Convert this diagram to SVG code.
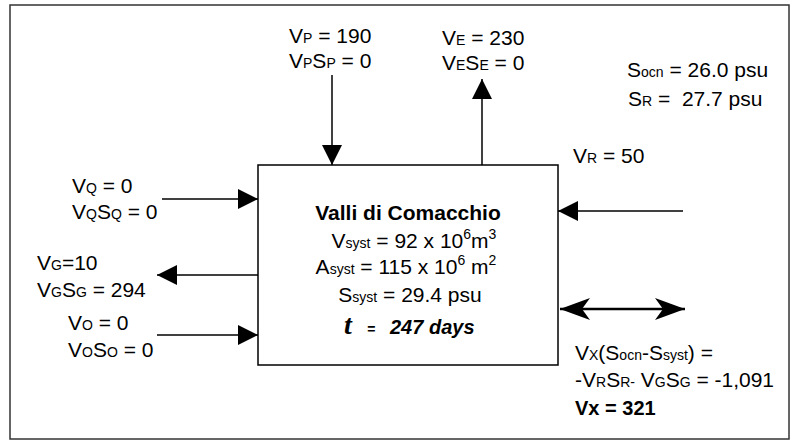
<svg xmlns="http://www.w3.org/2000/svg" width="790" height="441" viewBox="0 0 790 441">
<defs>
<style>
text{font-family:"Liberation Sans",Arial,sans-serif;font-size:21px;fill:#000}
.s{font-size:14px}
.b{font-weight:bold}
.ln{stroke:#000;stroke-width:1.5;fill:none}
.dbl{stroke:#000;stroke-width:2.5;fill:none}
</style>
<marker id="ah" markerUnits="userSpaceOnUse" markerWidth="22" markerHeight="24" viewBox="-21 -11 22 22" refX="0" refY="0" orient="auto">
<path d="M0,0 L-20,-10 L-20,10 Z" fill="#000"/>
</marker>
<marker id="st" markerUnits="userSpaceOnUse" markerWidth="32" markerHeight="26" viewBox="-31 -12 32 24" refX="0" refY="0" orient="auto-start-reverse">
<path d="M0,0 L-30,-11 L-22,0 L-30,11 Z" fill="#000"/>
</marker>
</defs>
<rect x="10" y="5" width="779" height="434" fill="#fff" stroke="#333" stroke-width="1.5"/>
<g id="system">
<rect x="258" y="165" width="300" height="200" fill="#fff" stroke="#000" stroke-width="1.5"/>
<text x="408" y="220" text-anchor="middle" class="b">Valli di Comacchio</text>
<text x="414" y="248" text-anchor="middle">V<tspan class="s">syst</tspan> = 92 x 10<tspan class="s" dy="-9">6</tspan><tspan dy="9">m</tspan><tspan class="s" dy="-9">3</tspan></text>
<text x="406" y="274" text-anchor="middle">A<tspan class="s">syst</tspan> = 115 x 10<tspan class="s" dy="-9">6</tspan><tspan dy="9"> m</tspan><tspan class="s" dy="-9">2</tspan></text>
<text x="410" y="302" text-anchor="middle">S<tspan class="s">syst</tspan> = 29.4 psu</text>
<text x="344" y="334" style="font-family:'Liberation Serif',serif;font-size:28px;font-weight:bold;font-style:italic">t</text>
<text x="367" y="334" class="b" style="font-size:14px;font-style:italic">=</text>
<text x="390" y="334" class="b" style="font-size:20px;font-style:italic">247 days</text>
</g>
<g id="precip">
<text x="289" y="43">V<tspan class="s">P</tspan> = 190</text>
<text x="289" y="68">V<tspan class="s">P</tspan>S<tspan class="s">P</tspan> = 0</text>
</g>
<g id="evap">
<text x="442" y="45">V<tspan class="s">E</tspan> = 230</text>
<text x="442" y="70">V<tspan class="s">E</tspan>S<tspan class="s">E</tspan> = 0</text>
</g>
<g id="salinity">
<text x="627" y="77">S<tspan class="s">ocn</tspan> = 26.0 psu</text>
<text x="628" y="106">S<tspan class="s">R</tspan> = &#160;27.7 psu</text>
</g>
<g id="river">
<text x="573" y="163">V<tspan class="s">R</tspan> = 50</text>
</g>
<g id="q">
<text x="72" y="193">V<tspan class="s">Q</tspan> = 0</text>
<text x="72" y="219">V<tspan class="s">Q</tspan>S<tspan class="s">Q</tspan> = 0</text>
</g>
<g id="g">
<text x="37" y="270">V<tspan class="s">G</tspan>=10</text>
<text x="37" y="297">V<tspan class="s">G</tspan>S<tspan class="s">G</tspan> = 294</text>
</g>
<g id="o">
<text x="68" y="330">V<tspan class="s">O</tspan> = 0</text>
<text x="68" y="357">V<tspan class="s">O</tspan>S<tspan class="s">O</tspan> = 0</text>
</g>
<g id="exchange">
<text x="575" y="360">V<tspan class="s">X</tspan>(S<tspan class="s">ocn</tspan>-S<tspan class="s">syst</tspan>) =</text>
<text x="575" y="387">-V<tspan class="s">R</tspan>S<tspan class="s">R-</tspan> V<tspan class="s">G</tspan>S<tspan class="s">G</tspan> = -1,091</text>
<text x="575" y="415" class="b" style="font-size:20px">Vx = 321</text>
</g>
<g id="connectors">
<line class="ln" x1="332" y1="75" x2="332" y2="165" marker-end="url(#ah)"/>
<line class="ln" x1="482" y1="165" x2="482" y2="79" marker-end="url(#ah)"/>
<line class="ln" x1="683" y1="211" x2="558" y2="211" marker-end="url(#ah)"/>
<line class="ln" x1="162" y1="199" x2="258" y2="199" marker-end="url(#ah)"/>
<line class="ln" x1="258" y1="275" x2="157" y2="275" marker-end="url(#ah)"/>
<line class="ln" x1="157" y1="335" x2="258" y2="335" marker-end="url(#ah)"/>
<line class="dbl" x1="560" y1="309" x2="685" y2="309" marker-start="url(#st)" marker-end="url(#st)"/>
</g>
</svg>
